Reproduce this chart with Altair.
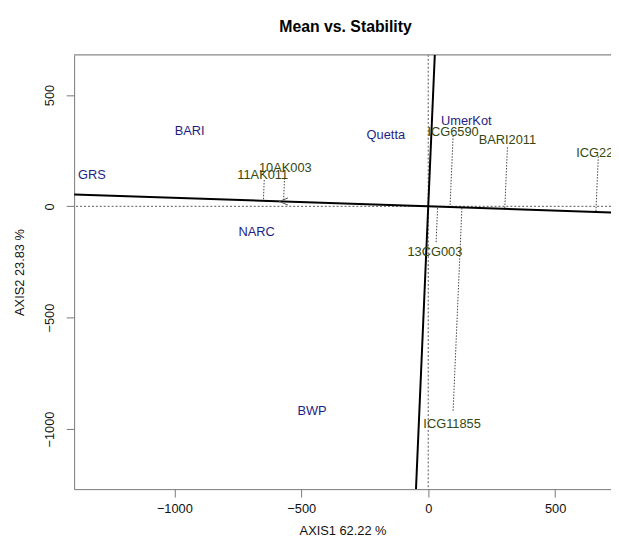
import altair as alt
import pandas as pd

# axis ranges (right side is cropped in the reference)
x_domain = [-1395, 720]
y_domain = [-1270, 680]
x_ticks = [-1000, -500, 0, 500]
y_ticks = [-1000, -500, 0, 500]

# environments (blue labels)
env_names = ["GRS", "BARI", "NARC", "Quetta", "UmerKot", "BWP"]
env_x = [-1325, -940, -676, -167, 150, -458]
env_y = [140, 340, -116, 318, 381, -921]

# genotypes (green labels) : point position and label position
gen_names = ["10AK003", "11AK011", "ICG6590", "BARI2011", "ICG227", "13CG003", "ICG11855"]
gen_x = [-566, -646, 98, 312, 670, 31, 98]
gen_y = [127, 118, 318, 265, 224, -161, -918]
gen_label_x = [-563, -652, 98, 312, 670, 26, 94]
gen_label_y = [171, 140, 335, 296, 238, -205, -976]

# average-environment axis slope (through origin)
aea_slope = -0.038
arrow_x = [-570]

ENV_COL = "#1e1e82"
GEN_COL = "#34480f"
FONT = "Liberation Sans"

# ---- derived tables ----
env_df = pd.DataFrame({"name": env_names, "x": env_x, "y": env_y})
gen_lab_df = pd.DataFrame({"name": gen_names, "x": gen_label_x, "y": gen_label_y})

proj_rows = []
for n, gx, gy in zip(gen_names, gen_x, gen_y):
    t = (gx + aea_slope * gy) / (1 + aea_slope ** 2)
    proj_rows.append({"name": n, "x": gx, "y": gy, "x2": t, "y2": aea_slope * t})
proj_df = pd.DataFrame(proj_rows)

aea_df = pd.DataFrame({"x": x_domain, "y": [aea_slope * v for v in x_domain]})
perp_df = pd.DataFrame({"x": [-aea_slope * v for v in y_domain], "y": y_domain})
arrow_df = pd.DataFrame({"x": arrow_x, "y": [aea_slope * v for v in arrow_x]})

xs = alt.Scale(domain=x_domain, nice=False, zero=False)
ys = alt.Scale(domain=y_domain, nice=False, zero=False)

x_axis = alt.Axis(values=x_ticks, title="AXIS1 62.22 %", grid=False, tickSize=8,
                  labelPadding=6, titlePadding=9, format="d")
y_axis = alt.Axis(values=y_ticks, title="AXIS2 23.83 %", grid=False, tickSize=8,
                  labelAngle=270, labelPadding=10, titlePadding=17, format="d")

base = alt.Chart(pd.DataFrame({"d": [0]}))

zero_v = base.mark_rule(color="#555", strokeDash=[2, 2], strokeWidth=1).encode(
    x=alt.X("d:Q", scale=xs, axis=x_axis))
zero_h = base.mark_rule(color="#555", strokeDash=[2, 2], strokeWidth=1).encode(
    y=alt.Y("d:Q", scale=ys, axis=y_axis))

top_border = base.mark_rule(color="#888", strokeWidth=1.2).encode(
    y=alt.value(0), x=alt.value(0), x2=alt.value(544))

proj = alt.Chart(proj_df).mark_rule(color="#444", strokeDash=[1.5, 1.5], strokeWidth=1).encode(
    x=alt.X("x:Q", scale=xs), y=alt.Y("y:Q", scale=ys), x2="x2:Q", y2="y2:Q")

aea = alt.Chart(aea_df).mark_line(color="black", strokeWidth=2, clip=True).encode(
    x=alt.X("x:Q", scale=xs), y=alt.Y("y:Q", scale=ys), order="x:Q")
perp = alt.Chart(perp_df).mark_line(color="black", strokeWidth=2, clip=True).encode(
    x=alt.X("x:Q", scale=xs), y=alt.Y("y:Q", scale=ys), order="y:Q")

arrow = alt.Chart(arrow_df).mark_point(
    shape="M1,-0.8L-1,0L1,0.8", filled=False, color="#555", size=80, strokeWidth=1, opacity=1
).encode(x=alt.X("x:Q", scale=xs), y=alt.Y("y:Q", scale=ys))

env_txt = alt.Chart(env_df).mark_text(font=FONT, fontSize=13, color=ENV_COL,
                                      align="center", baseline="middle").encode(
    x=alt.X("x:Q", scale=xs), y=alt.Y("y:Q", scale=ys), text="name:N")
gen_txt = alt.Chart(gen_lab_df).mark_text(font=FONT, fontSize=13, color=GEN_COL,
                                          align="center", baseline="middle").encode(
    x=alt.X("x:Q", scale=xs), y=alt.Y("y:Q", scale=ys), text="name:N")

chart = alt.layer(zero_v, zero_h, top_border, proj, aea, perp, arrow, env_txt, gen_txt).properties(
    width=544, height=440,
    title=alt.Title("Mean vs. Stability", fontSize=16, fontWeight="bold", font=FONT,
                    anchor="middle", offset=20, dx=3, color="black"),
    autosize=alt.AutoSizeParams(type="none"),
    padding={"left": 67, "top": 44, "right": 0, "bottom": 46},
).configure_view(stroke=None).configure_axis(
    domainColor="#777", tickColor="#777", labelFont=FONT, labelFontSize=13, labelColor="#111",
    titleFont=FONT, titleFontSize=13, titleFontWeight="normal", titleColor="#111",
)

chart.save("out.html", embed_options={"renderer": "svg", "actions": False})
